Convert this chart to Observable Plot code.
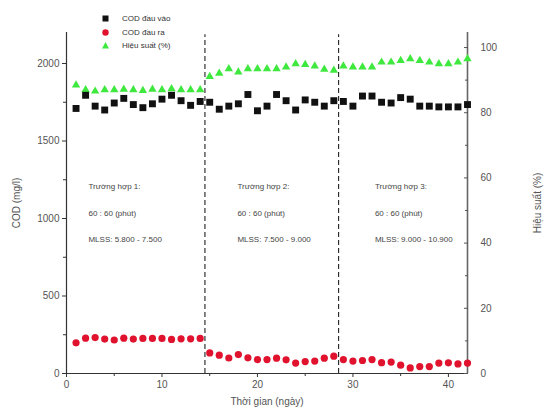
<!DOCTYPE html>
<html>
<head>
<meta charset="utf-8">
<script src="https://cdn.jsdelivr.net/npm/d3@7"></script>
<script src="https://cdn.jsdelivr.net/npm/@observablehq/plot@0.6"></script>
<style>
  html, body { margin: 0; padding: 0; background: #fff; }
  #wrap { position: relative; width: 548px; height: 411px; font-family: "Liberation Sans", Arial, sans-serif; }
  #legend { position: absolute; left: 101px; top: 12px; font-size: 8px; color: #333; line-height: 13.5px; }
  #legend .row { display: flex; align-items: center; }
  #legend svg { margin-right: 12px; }
</style>
</head>
<body>
<div id="wrap">
  <div id="chart"></div>
  <div id="legend"></div>
</div>
<script>
// ---- data ----
const days = [1,2,3,4,5,6,7,8,9,10,11,12,13,14,15,16,17,18,19,20,21,22,23,24,25,26,27,28,29,30,31,32,33,34,35,36,37,38,39,40,41,42];
const codIn = [1710,1795,1725,1700,1745,1775,1735,1715,1740,1770,1795,1760,1730,1755,
               1750,1705,1725,1740,1800,1695,1725,1800,1760,1700,1765,1750,1725,1760,
               1755,1725,1790,1790,1750,1745,1780,1770,1725,1725,1720,1720,1720,1735];
const codOut = [198,228,232,222,216,228,222,226,226,226,220,224,224,226,
                133,118,100,122,101,90,90,99,88,67,77,80,99,112,
                90,80,84,90,70,74,54,36,45,45,67,69,62,67];
const efficiency = [88.5,87.0,86.6,87.0,87.0,87.2,87.0,86.8,87.2,87.0,87.3,87.0,87.0,87.0,
                    91.1,92.1,93.5,92.5,93.5,93.5,93.5,93.5,94.0,95.0,94.8,94.3,93.3,93.0,
                    94.3,94.0,94.0,94.0,95.5,95.5,96.0,96.5,96.0,95.5,95.0,95.0,95.5,96.5];
const phaseBreaks = [14.5, 28.5];
const caseX = [2.3, 17.9, 32.3];
const caseTitles = ["Trường hợp 1:", "Trường hợp 2:", "Trường hợp 3:"];
const caseCycle = ["60 : 60 (phút)", "60 : 60 (phút)", "60 : 60 (phút)"];
const caseMLSS = ["MLSS: 5.800 - 7.500", "MLSS: 7.500 - 9.000", "MLSS: 9.000 - 10.900"];
const caseRowY = [1205, 1035, 865];
const leftTicks = [0, 500, 1000, 1500, 2000];
const leftMinor = [250, 750, 1250, 1750];
const rightTicks = [0, 20, 40, 60, 80, 100];
const rightMinor = [10, 30, 50, 70, 90];
const xTicks = [0, 10, 20, 30, 40];
const xMinor = [5, 15, 25, 35];
const seriesNames = ["COD đầu vào", "COD đầu ra", "Hiệu suất (%)"];

// ---- styling ----
const colIn = "#111111", colOut = "#e0122e", colEff = "#3fe83f";
const k = 2103 / 100; // % -> COD-axis units (right axis mapping)

const rowsIn = days.map((d, i) => ({day: d, v: codIn[i]}));
const rowsOut = days.map((d, i) => ({day: d, v: codOut[i]}));
const rowsEff = days.map((d, i) => ({day: d, v: efficiency[i] * k}));
const ann = [];
caseX.forEach((x, i) => {
  ann.push({x, y: caseRowY[0], t: caseTitles[i]});
  ann.push({x, y: caseRowY[1], t: caseCycle[i]});
  ann.push({x, y: caseRowY[2], t: caseMLSS[i]});
});

const chart = Plot.plot({
  width: 548,
  height: 411,
  marginLeft: 66,
  marginRight: 81,
  marginTop: 32,
  marginBottom: 38,
  style: {fontFamily: "Liberation Sans, Arial, sans-serif", fontSize: "10px", color: "#555", background: "#fff"},
  x: {domain: [0, 42]},
  y: {domain: [0, 2200]},
  marks: [
    // axis lines
    Plot.ruleX([0], {stroke: "#333", strokeWidth: 1.2}),
    Plot.ruleX([42], {stroke: "#666", strokeWidth: 1.6}),
    Plot.ruleY([0], {stroke: "#333", strokeWidth: 1.2}),
    // left axis
    Plot.axisY(leftTicks, {anchor: "left", tickSize: 4, tickPadding: 3, stroke: "#333",
      tickFormat: d => String(d),
      label: "COD (mg/l)", labelAnchor: "center", labelOffset: 54, labelArrow: "none"}),
    Plot.axisY(leftMinor, {anchor: "left", tickSize: 3, tickFormat: () => "", label: null, stroke: "#333"}),
    // right axis
    Plot.axisY(rightTicks.map(p => p * k), {anchor: "right", tickSize: -4, tickPadding: 17, stroke: "#555",
      tickFormat: d => String(Math.round(d / k)),
      label: "Hiệu suất (%)", labelAnchor: "center", labelOffset: 73, labelArrow: "none"}),
    Plot.axisY(rightMinor.map(p => p * k), {anchor: "right", tickSize: -3, tickFormat: () => "", label: null, stroke: "#555"}),
    // x axis
    Plot.axisX(xTicks, {anchor: "bottom", tickSize: 4, tickPadding: 3, stroke: "#333",
      tickFormat: d => String(d),
      label: "Thời gian (ngày)", labelAnchor: "center", labelOffset: 31, labelArrow: "none"}),
    Plot.axisX(xMinor, {anchor: "bottom", tickSize: 3, tickFormat: () => "", label: null, stroke: "#333"}),
    // phase separators
    Plot.ruleX(phaseBreaks, {y1: 0, y2: 2185, stroke: "#222", strokeWidth: 1.1, strokeDasharray: "5,3"}),
    // annotations
    Plot.text(ann, {x: "x", y: "y", text: "t", textAnchor: "start", fontSize: 8, fill: "#444"}),
    // series
    Plot.dot(rowsEff, {x: "day", y: "v", symbol: "triangle", r: 3.1, fill: colEff, stroke: "none"}),
    Plot.dot(rowsIn, {x: "day", y: "v", symbol: "square", r: 3.9, fill: colIn, stroke: "none"}),
    Plot.dot(rowsOut, {x: "day", y: "v", symbol: "circle", r: 3.6, fill: colOut, stroke: "none"})
  ]
});
document.getElementById("chart").appendChild(chart);

// legend (HTML overlay)
const legend = document.getElementById("legend");
const legendSyms = [
  `<rect x="1.5" y="1.5" width="6" height="6" fill="${colIn}"/>`,
  `<circle cx="4.5" cy="4.5" r="3.2" fill="${colOut}"/>`,
  `<path d="M4.5,1 L8,7.5 L1,7.5 Z" fill="${colEff}"/>`
];
seriesNames.forEach((name, i) => {
  const row = document.createElement("div");
  row.className = "row";
  row.innerHTML = `<svg width="9" height="9" viewBox="0 0 9 9">${legendSyms[i]}</svg><span>${name}</span>`;
  legend.appendChild(row);
});
</script>
</body>
</html>
